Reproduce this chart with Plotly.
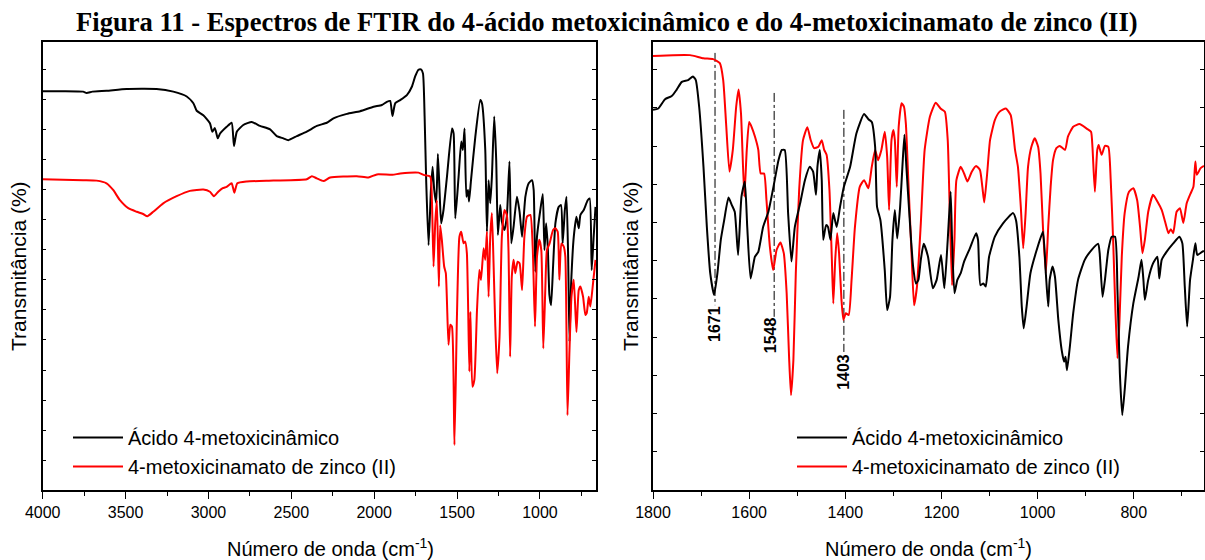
import plotly.graph_objects as go

# ---------------- data (transmittance in arbitrary %) ----------------
left_acid_wn = [4000, 3880, 3756, 3735, 3700, 3615, 3494, 3313, 3212, 3131, 3091, 3071, 3031, 2991, 2977,
                2961, 2944, 2930, 2890, 2860, 2846, 2829, 2790, 2739, 2689, 2628, 2588, 2548, 2518, 2467,
                2407, 2346, 2286, 2246, 2165, 2085, 2004, 1954, 1924, 1904, 1890, 1873, 1843, 1803, 1773,
                1753, 1733, 1718, 1706, 1696, 1686, 1672, 1658, 1648, 1638, 1626, 1616, 1606, 1596, 1582,
                1561, 1531, 1521, 1511, 1491, 1475, 1465, 1455, 1444, 1434, 1428, 1416, 1390, 1360, 1350,
                1330, 1320, 1310, 1300, 1290, 1276, 1264, 1254, 1240, 1230, 1214, 1200, 1184, 1173, 1159,
                1139, 1123, 1108, 1088, 1068, 1048, 1038, 1028, 1018, 998, 983, 973, 963, 953, 943,
                933, 921, 907, 887, 873, 863, 850, 840, 830, 822, 812, 796, 780, 766, 756,
                736, 712, 700, 688, 676, 665]
left_acid_T = [89.4, 89.4, 89.3, 89.0, 89.3, 89.5, 89.9, 89.9, 89.3, 88.2, 86.7, 85.0, 84.0, 82.2, 80.3,
               81.1, 78.8, 79.9, 81.4, 82.3, 77.1, 80.3, 81.8, 82.5, 81.6, 80.8, 79.3, 78.8, 78.4, 79.3,
               80.3, 81.6, 82.3, 83.3, 84.3, 84.9, 85.9, 86.3, 87.0, 87.2, 83.8, 86.7, 87.4, 88.5, 90.4,
               92.7, 94.2, 94.3, 93.4, 83.7, 68.7, 54.8, 67.2, 72.4, 67.2, 64.2, 75.3, 67.2, 59.7, 62.7,
               70.2, 81.0, 79.9, 60.8, 70.2, 78.1, 76.2, 81.0, 65.7, 67.2, 64.6, 69.4, 79.2, 87.4, 86.7,
               76.2, 57.8, 69.4, 64.2, 70.2, 83.7, 73.9, 57.1, 63.8, 60.1, 58.2, 61.2, 73.6, 55.2, 59.0,
               65.7, 62.3, 56.7, 65.7, 68.7, 69.4, 67.2, 48.8, 56.7, 62.7, 66.3, 53.7, 59.7, 54.5, 43.6,
               41.3, 50.0, 59.7, 63.4, 63.8, 55.2, 62.7, 65.7, 52.2, 33.1, 46.2, 56.7, 61.2, 58.6, 61.6,
               62.7, 64.9, 65.3, 49.2, 56.7, 63.4]

left_zn_wn = [4000, 3756, 3675, 3615, 3575, 3534, 3484, 3433, 3394, 3369, 3333, 3273, 3192, 3112, 3031,
              2991, 2967, 2941, 2914, 2890, 2860, 2844, 2826, 2769, 2608, 2407, 2376, 2346, 2306, 2266,
              2105, 2035, 1984, 1890, 1843, 1733, 1702, 1662, 1652, 1642, 1632, 1622, 1610, 1602, 1592,
              1578, 1568, 1552, 1541, 1531, 1516, 1501, 1486, 1475, 1461, 1451, 1441, 1426, 1420, 1408,
              1396, 1380, 1366, 1356, 1340, 1330, 1320, 1310, 1300, 1290, 1280, 1270, 1258, 1244, 1230,
              1214, 1200, 1190, 1180, 1170, 1159, 1149, 1135, 1123, 1108, 1094, 1078, 1058, 1044, 1030,
              1018, 1004, 992, 980, 968, 958, 942, 921, 907, 893, 883, 871, 857, 847, 834,
              822, 810, 796, 780, 766, 756, 740, 726, 718, 706, 696, 680, 665]
left_zn_T = [69.6, 69.4, 69.3, 68.7, 67.2, 64.9, 63.1, 62.3, 61.8, 61.3, 62.3, 64.2, 65.8, 67.0, 67.3,
             66.8, 65.8, 66.8, 67.6, 67.9, 68.7, 66.6, 68.7, 69.1, 69.3, 69.6, 70.3, 69.8, 69.2, 70.0,
             70.3, 70.0, 70.7, 70.6, 70.9, 71.1, 70.6, 70.2, 64.9, 50.0, 59.7, 64.9, 45.5, 59.3, 56.0,
             50.0, 48.5, 32.4, 36.9, 36.5, 9.9, 38.7, 56.7, 57.8, 55.2, 55.6, 53.0, 26.4, 39.8, 23.0,
             24.5, 40.2, 49.2, 47.0, 54.1, 51.5, 57.8, 43.2, 56.7, 62.0, 50.7, 37.2, 26.0, 34.2, 56.7,
             62.7, 61.6, 53.7, 29.7, 47.7, 51.5, 48.5, 51.1, 50.7, 44.7, 56.7, 61.2, 61.6, 54.5, 36.5,
             52.2, 56.0, 53.7, 31.6, 44.7, 53.7, 55.2, 58.2, 58.6, 57.8, 47.0, 55.2, 54.5, 52.2, 16.6,
             31.2, 43.2, 47.0, 35.3, 44.7, 45.5, 43.2, 39.1, 39.5, 43.2, 41.0, 46.2, 51.5]

right_acid_wn = [1800, 1789, 1775, 1761, 1751, 1740, 1727, 1717, 1711, 1704, 1695, 1688, 1681, 1673, 1666,
                 1659, 1652, 1643, 1636, 1630, 1623, 1616, 1609, 1604, 1597, 1588, 1581, 1571, 1560, 1550,
                 1539, 1532, 1526, 1519, 1512, 1505, 1494, 1484, 1474, 1467, 1461, 1458, 1453, 1449, 1446,
                 1440, 1436, 1431, 1425, 1418, 1411, 1403, 1390, 1377, 1361, 1352, 1345, 1338, 1334, 1327,
                 1318, 1313, 1307, 1302, 1297, 1292, 1286, 1281, 1277, 1273, 1266, 1259, 1253, 1248, 1243,
                 1237, 1228, 1218, 1210, 1201, 1194, 1187, 1181, 1178, 1173, 1167, 1160, 1153, 1141, 1128,
                 1124, 1119, 1113, 1108, 1101, 1089, 1072, 1051, 1045, 1038, 1033, 1029, 1023, 1015, 1002,
                 989, 983, 978, 975, 969, 964, 957, 950, 945, 942, 939, 933, 926, 916, 902,
                 888, 874, 871, 865, 860, 853, 846, 839, 834, 829, 824, 819, 812, 801, 790,
                 784, 780, 777, 770, 760, 751, 747, 742, 732, 718, 705, 699, 694, 689, 683,
                 677, 672, 668, 658, 654]
right_acid_T = [85.2, 85.5, 87.6, 88.3, 89.7, 91.5, 91.9, 92.7, 91.9, 85.9, 72.4, 58.9, 48.5, 43.6, 48.5,
                56.0, 60.4, 65.5, 63.8, 62.3, 52.6, 65.7, 69.1, 58.9, 47.3, 52.2, 53.3, 58.9, 62.3, 67.6,
                73.9, 76.2, 76.2, 62.0, 51.1, 58.9, 64.2, 69.4, 72.4, 71.3, 66.1, 72.4, 76.2, 69.4, 56.0,
                59.3, 58.9, 56.0, 62.0, 58.9, 63.4, 67.9, 72.4, 79.9, 84.3, 83.1, 82.5, 76.9, 63.4, 60.4,
                49.2, 40.2, 43.2, 56.0, 62.7, 56.3, 63.4, 73.0, 79.6, 72.4, 60.4, 50.0, 46.2, 47.0, 51.5,
                55.1, 52.2, 45.1, 47.0, 52.6, 45.1, 56.0, 66.8, 56.0, 44.0, 47.0, 48.5, 51.1, 54.1, 57.5,
                56.0, 45.8, 46.2, 45.5, 52.2, 56.7, 59.7, 62.0, 60.4, 52.2, 41.0, 36.1, 41.0, 48.5, 53.7,
                57.8, 48.5, 41.0, 47.0, 50.0, 47.7, 38.0, 31.2, 28.6, 29.7, 26.7, 32.0, 39.5, 47.0, 51.5,
                53.7, 55.1, 53.0, 43.2, 47.0, 53.7, 56.7, 56.7, 44.7, 26.0, 16.6, 22.2, 32.0, 41.7, 47.7,
                51.5, 47.0, 42.5, 47.0, 50.7, 52.2, 47.3, 51.5, 53.3, 55.2, 56.7, 55.2, 45.5, 36.5, 47.0,
                51.5, 55.2, 52.6, 53.3, 53.5]

right_zn_wn = [1800, 1758, 1723, 1695, 1675, 1661, 1654, 1648, 1641, 1634, 1627, 1622, 1617, 1610, 1605,
               1600, 1595, 1588, 1581, 1576, 1569, 1564, 1557, 1550, 1543, 1535, 1528, 1522, 1517, 1513,
               1508, 1503, 1496, 1488, 1479, 1472, 1465, 1456, 1449, 1444, 1439, 1433, 1428, 1425, 1421,
               1417, 1413, 1408, 1404, 1399, 1393, 1387, 1380, 1370, 1361, 1352, 1345, 1338, 1332, 1325,
               1318, 1313, 1309, 1304, 1300, 1297, 1293, 1289, 1283, 1278, 1274, 1269, 1262, 1257, 1251,
               1243, 1235, 1224, 1212, 1202, 1193, 1187, 1183, 1178, 1173, 1169, 1160, 1153, 1146, 1137,
               1128, 1120, 1115, 1111, 1105, 1099, 1089, 1079, 1066, 1056, 1047, 1041, 1035, 1030, 1025,
               1020, 1013, 1006, 999, 994, 989, 983, 978, 973, 968, 961, 954, 943, 937, 926,
               913, 898, 889, 886, 881, 876, 873, 867, 860, 853, 848, 843, 838, 834, 830,
               825, 819, 810, 801, 793, 787, 782, 777, 770, 760, 751, 742, 735, 728, 723,
               718, 711, 704, 697, 690, 682, 676, 672, 669, 661, 654]
right_zn_T = [97.3, 97.5, 97.5, 96.8, 96.6, 95.7, 91.9, 82.2, 71.3, 76.2, 85.9, 89.8, 84.4, 65.7, 76.2,
              82.5, 81.4, 79.2, 76.2, 70.9, 70.9, 64.9, 54.5, 49.2, 53.7, 55.4, 53.0, 44.0, 29.7, 21.1,
              29.0, 48.5, 67.2, 78.4, 81.3, 78.4, 76.6, 76.9, 78.4, 76.2, 75.1, 67.2, 51.5, 41.7, 51.5,
              57.5, 53.0, 42.5, 38.0, 39.5, 39.1, 47.0, 58.9, 67.9, 69.4, 67.6, 72.4, 76.2, 73.9, 76.2,
              80.3, 74.7, 62.7, 78.4, 80.7, 78.4, 67.9, 81.4, 86.7, 85.9, 82.0, 69.4, 52.2, 41.3, 45.5,
              59.7, 76.2, 83.7, 86.8, 85.5, 84.8, 78.4, 63.4, 45.8, 56.0, 69.4, 72.4, 70.9, 69.1, 71.3,
              72.6, 71.7, 67.9, 64.4, 70.9, 78.4, 82.9, 84.8, 85.5, 84.0, 76.2, 72.4, 63.4, 54.1, 62.0,
              72.4, 76.9, 78.8, 76.9, 70.9, 58.9, 48.5, 58.9, 67.9, 73.9, 76.6, 77.1, 76.2, 79.2, 81.4,
              82.0, 81.0, 80.3, 76.9, 66.8, 76.2, 77.3, 75.1, 77.1, 76.9, 69.4, 56.0, 39.5, 29.4, 37.2,
              52.2, 62.0, 66.8, 67.6, 64.9, 58.9, 53.0, 56.0, 62.3, 66.1, 64.6, 62.7, 60.1, 57.5, 58.4,
              57.5, 62.3, 63.1, 59.8, 64.2, 66.4, 67.9, 73.6, 70.6, 72.1, 72.6]

# marked peaks (right panel)
peak_wn = [1671, 1548, 1403]
peak_top = [98.0, 89.0, 85.2]
peak_bottom = [41.3, 38.7, 30.8]
peak_label_y = [37.1, 34.6, 26.3]

series_names = ["Ácido 4-metoxicinâmico", "4-metoxicinamato de zinco (II)"]
series_colors = ["#000000", "#ff0000"]

# ---------------- figure ----------------
W, H = 1205, 560
FONT = "Liberation Sans, Arial, sans-serif"
Y_RANGE = [-0.22, 100.45]

fig = go.Figure()

line_shape = dict(width=2, shape="spline", smoothing=0.5)

fig.add_trace(go.Scatter(x=left_acid_wn, y=left_acid_T, mode="lines", name=series_names[0],
                         line=dict(color=series_colors[0], **line_shape), xaxis="x", yaxis="y",
                         legend="legend"))
fig.add_trace(go.Scatter(x=left_zn_wn, y=left_zn_T, mode="lines", name=series_names[1],
                         line=dict(color=series_colors[1], **line_shape), xaxis="x", yaxis="y",
                         legend="legend"))

for wn, top, bot in zip(peak_wn, peak_top, peak_bottom):
    fig.add_trace(go.Scatter(x=[wn, wn], y=[top, bot], mode="lines", showlegend=False,
                             line=dict(color="black", width=1, dash="dashdot"),
                             xaxis="x2", yaxis="y2", hoverinfo="skip"))

fig.add_trace(go.Scatter(x=right_zn_wn, y=right_zn_T, mode="lines", name=series_names[1],
                         line=dict(color=series_colors[1], **line_shape), xaxis="x2", yaxis="y2",
                         legend="legend2"))
fig.add_trace(go.Scatter(x=right_acid_wn, y=right_acid_T, mode="lines", name=series_names[0],
                         line=dict(color=series_colors[0], **line_shape), xaxis="x2", yaxis="y2",
                         legend="legend2"))

dom_left = [42.7 / W, 596 / W]
dom_right = [653 / W, 1204 / W]
dom_y = [1 - 490 / H, 1 - 42 / H]

def xaxis_common(rng, dtick, minor_dtick, dom, anchor):
    return dict(domain=dom, range=rng, anchor=anchor, showgrid=False, zeroline=False,
                automargin=False,
                showline=True, linecolor="black", linewidth=1.5, mirror=True,
                ticks="outside", ticklen=7, tickwidth=1.2, tickcolor="black",
                tickmode="linear", tick0=0, dtick=dtick,
                minor=dict(ticks="outside", ticklen=4, tickwidth=1.2, tickcolor="black",
                           dtick=minor_dtick, tick0=0, showgrid=False),
                tickfont=dict(family=FONT, size=16, color="black"))

def top_axis(rng, dtick, minor_dtick, dom, overlay, anchor):
    return dict(domain=dom, range=rng, overlaying=overlay, anchor=anchor, side="top",
                automargin=False,
                showgrid=False, zeroline=False, showline=False, showticklabels=False,
                ticks="inside", ticklen=6, tickwidth=1.2, tickcolor="black",
                tickmode="linear", tick0=0, dtick=dtick,
                minor=dict(ticks="inside", ticklen=4, tickwidth=1.2, tickcolor="black",
                           dtick=minor_dtick, tick0=0, showgrid=False))

def yaxis_common(dtick, anchor):
    return dict(domain=dom_y, range=Y_RANGE, anchor=anchor, showgrid=False, zeroline=False,
                automargin=False,
                showline=True, linecolor="black", linewidth=1.5, mirror="ticks",
                ticks="inside", ticklen=4, tickwidth=1.2, tickcolor="black",
                tickmode="linear", tick0=Y_RANGE[0], dtick=dtick, showticklabels=False)

fig.update_layout(
    width=W, height=H,
    margin=dict(l=0, r=0, t=0, b=0, autoexpand=False),
    paper_bgcolor="white", plot_bgcolor="white",
    xaxis=xaxis_common([4000, 662], 500, 250, dom_left, "y"),
    yaxis=yaxis_common(30 / 4.45, "x"),
    xaxis2=xaxis_common([1800, 654], 200, 100, dom_right, "y2"),
    yaxis2=yaxis_common(38.2 / 4.45, "x2"),
    xaxis3=top_axis([4000, 662], 500, 250, dom_left, "x", "y"),
    xaxis4=top_axis([1800, 654], 200, 100, dom_right, "x2", "y2"),
    legend=dict(x=68 / W, y=1 - 418 / H, xanchor="left", yanchor="top",
                bgcolor="rgba(0,0,0,0)", borderwidth=0, itemwidth=50,
                font=dict(family=FONT, size=20, color="black"), tracegroupgap=0,
                traceorder="normal"),
    legend2=dict(x=792 / W, y=1 - 418 / H, xanchor="left", yanchor="top",
                 bgcolor="rgba(0,0,0,0)", borderwidth=0, itemwidth=50,
                 font=dict(family=FONT, size=20, color="black"), tracegroupgap=0,
                 traceorder="reversed"),
    showlegend=True,
)

annotations = [
    dict(text="<b>Figura 11 - Espectros de FTIR do 4-ácido metoxicinâmico e do 4-metoxicinamato de zinco (II)</b>",
         x=607 / W, y=1 - 22 / H, xref="paper", yref="paper", showarrow=False,
         xanchor="center", yanchor="middle",
         font=dict(family="Liberation Serif, Times New Roman, serif", size=26.6, color="black")),
]
for cx in [330 / W, 928 / W]:
    annotations.append(dict(text="Número de onda (cm<sup>-1</sup>)", x=cx, y=1 - 547 / H,
                            xref="paper", yref="paper", showarrow=False,
                            xanchor="center", yanchor="middle",
                            font=dict(family=FONT, size=20, color="black")))
for px in [18, 630]:
    annotations.append(dict(text="Transmitância (%)", x=px / W, y=1 - 266 / H,
                            xref="paper", yref="paper", showarrow=False, textangle=-90,
                            xanchor="center", yanchor="middle",
                            font=dict(family=FONT, size=21, color="black")))
for wn, ly, dx in zip(peak_wn, peak_label_y, [0, -4, 0]):
    annotations.append(dict(text="<b>%d</b>" % wn, x=wn, y=ly, xref="x2", yref="y2",
                            showarrow=False, textangle=-90, xanchor="center", yanchor="middle",
                            xshift=dx,
                            font=dict(family=FONT, size=16, color="black")))
fig.update_layout(annotations=annotations)

fig.write_html("out.html")
